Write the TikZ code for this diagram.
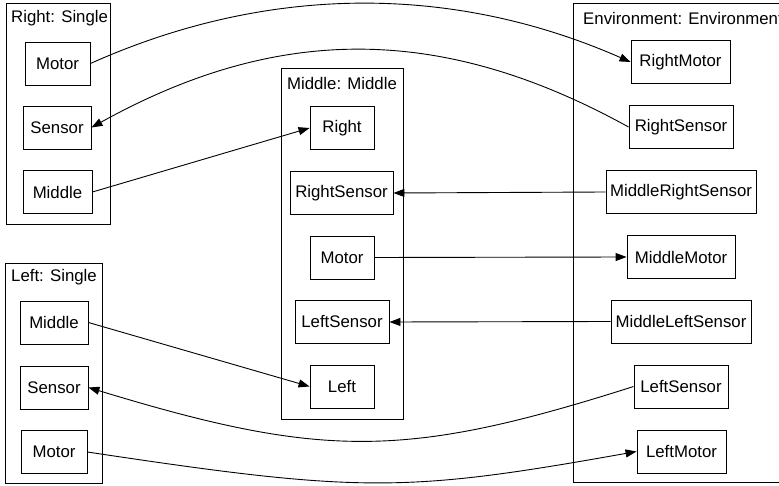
\documentclass[tikz,border=0pt]{standalone}
\usepackage{fontspec}
\setmainfont{Liberation Sans}
\usetikzlibrary{arrows.meta}
\begin{document}
\begin{tikzpicture}[x=1pt,y=-1pt,
  every node/.style={font=\fontsize{16.8}{19}\selectfont},
  box/.style={draw,line width=0.9pt,inner sep=0pt,minimum height=43pt},
  cluster/.style={draw,line width=0.9pt},
  ctitle/.style={inner sep=0pt,anchor=west},
  link/.style={line width=0.9pt,-{Triangle[length=11pt,width=8pt]}},
  plain/.style={line width=0.9pt}]
\useasboundingbox (0,0) rectangle (779,486);
\clip (0,0) rectangle (779,486);

% clusters
\draw[cluster] (6,3) rectangle (110,224);
\node[ctitle] (rsTitle) at (11,18) {Right: Single};
\draw[cluster] (5,263) rectangle (102,483);
\node[ctitle] (lsTitle) at (11,277) {Left: Single};
\draw[cluster] (281,68) rectangle (403,419);
\node[inner sep=0pt] (midTitle) at (342,83) {Middle: Middle};
\draw[cluster] (573,3) rectangle (800,482);
\node[ctitle] (envTitle) at (583,18) {Environment: Environment};

% Right: Single
\node[box,minimum width=65pt] (rsMotor)  at (57.5,63.5) {Motor};
\node[box,minimum width=68pt] (rsSensor) at (57,127.5) {Sensor};
\node[box,minimum width=69pt] (rsMiddle) at (57.5,192) {Middle};

% Left: Single
\node[box,minimum width=68pt] (lsMiddle) at (54,322.5) {Middle};
\node[box,minimum width=68pt] (lsSensor) at (54,387.5) {Sensor};
\node[box,minimum width=66pt] (lsMotor)  at (54,452) {Motor};

% Middle: Middle
\node[box,minimum width=64pt]  (mRight)       at (342,128) {Right};
\node[box,minimum width=103pt] (mRightSensor) at (341.5,193) {RightSensor};
\node[box,minimum width=64pt]  (mMotor)       at (342,257.5) {Motor};
\node[box,minimum width=94pt]  (mLeftSensor)  at (342,322) {LeftSensor};
\node[box,minimum width=64pt]  (mLeft)        at (342,386.5) {Left};

% Environment: Environment
\node[box,minimum width=99pt]  (eRightMotor)        at (680.5,62) {RightMotor};
\node[box,minimum width=104pt] (eRightSensor)       at (681,127) {RightSensor};
\node[box,minimum width=150pt] (eMiddleRightSensor) at (681,192) {MiddleRightSensor};
\node[box,minimum width=108pt] (eMiddleMotor)       at (681,257) {MiddleMotor};
\node[box,minimum width=140pt] (eMiddleLeftSensor)  at (681,321.5) {MiddleLeftSensor};
\node[box,minimum width=94pt]  (eLeftSensor)        at (681,386.5) {LeftSensor};
\node[box,minimum width=89pt]  (eLeftMotor)         at (681.5,451.5) {LeftMotor};

% connections
\draw[link] (rsMotor.east) .. controls (268,-16) and (453,-16) .. (eRightMotor.west);
\draw[link] (eRightSensor.west) .. controls (442,24) and (278,24) .. (rsSensor.east);
\draw[link] (rsMiddle.east) -- (mRight.west);
\draw[link] (eMiddleRightSensor.west) -- (mRightSensor.east);
\draw[link] (mMotor.east) -- (eMiddleMotor.west);
\draw[link] (eMiddleLeftSensor.west) -- (mLeftSensor.east);
\draw[link] (lsMiddle.east) -- (mLeft.west);
\draw[link] (eLeftSensor.west) .. controls (406,459) and (323,459) .. (lsSensor.east);
\draw[link] (lsMotor.east) .. controls (360,493) and (404,493) .. (eLeftMotor.west);
\end{tikzpicture}
\end{document}
